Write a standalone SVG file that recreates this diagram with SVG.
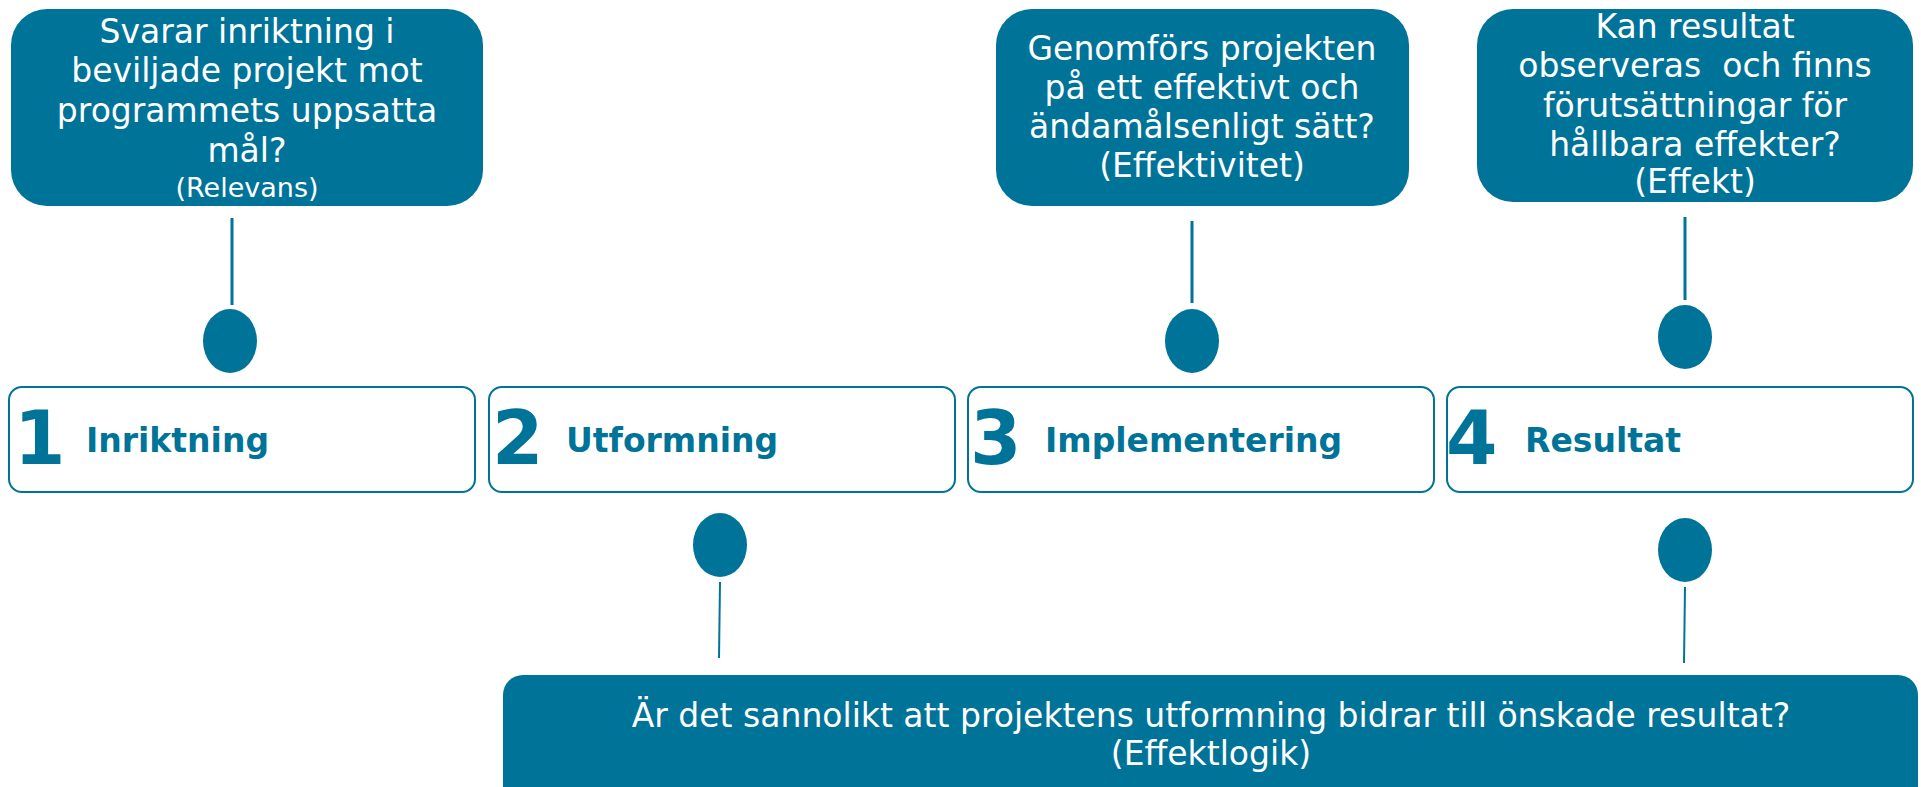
<svg xmlns="http://www.w3.org/2000/svg" width="1921" height="787" viewBox="0 0 1921 787">
<style>
.q{fill:#007399}
.qt{fill:#ffffff;font-family:"DejaVu Sans",Verdana,sans-serif;font-size:33px;text-anchor:middle}
.sm{font-size:27px}
.ph{fill:#ffffff;stroke:#007399;stroke-width:2}
.num{fill:#007399;font-family:"DejaVu Sans",Verdana,sans-serif;font-weight:bold;font-size:74px}
.lbl{fill:#007399;font-family:"DejaVu Sans",Verdana,sans-serif;font-weight:bold;font-size:33px}
.ln{stroke:#007399;stroke-width:3;fill:none}
.ln2{stroke:#007399;stroke-width:2;fill:none}
.dot{fill:#007399}
</style>
<rect width="1921" height="787" fill="#ffffff"/>
<g id="q-relevans">
<rect class="q" x="11" y="9" width="472" height="197" rx="36"/>
<text class="qt" x="247" y="43">Svarar inriktning i</text>
<text class="qt" x="247" y="82">beviljade projekt mot</text>
<text class="qt" x="247" y="122">programmets uppsatta</text>
<text class="qt" x="247" y="162">mål?</text>
<text class="qt sm" x="247" y="197">(Relevans)</text>
</g>
<g id="q-effektivitet">
<rect class="q" x="996" y="9" width="413" height="197" rx="36"/>
<text class="qt" x="1202" y="60">Genomförs projekten</text>
<text class="qt" x="1202" y="99">på ett effektivt och</text>
<text class="qt" x="1202" y="138">ändamålsenligt sätt?</text>
<text class="qt" x="1202" y="177">(Effektivitet)</text>
</g>
<g id="q-effekt">
<rect class="q" x="1477" y="9" width="436" height="193" rx="36"/>
<text class="qt" x="1695" y="38">Kan resultat</text>
<text class="qt" x="1695" y="77" xml:space="preserve">observeras  och finns</text>
<text class="qt" x="1695" y="117">förutsättningar för</text>
<text class="qt" x="1695" y="156">hållbara effekter?</text>
<text class="qt" x="1695" y="193">(Effekt)</text>
</g>
<g id="q-effektlogik">
<rect class="q" x="503" y="675" width="1415" height="140" rx="20"/>
<text class="qt" x="1211" y="727">Är det sannolikt att projektens utformning bidrar till önskade resultat?</text>
<text class="qt" x="1211" y="765">(Effektlogik)</text>
</g>
<g id="phase-1">
<rect class="ph" x="9" y="387" width="466" height="105" rx="13"/>
<text class="num" x="14" y="464">1</text>
<text class="lbl" x="86" y="452">Inriktning</text>
</g>
<g id="phase-2">
<rect class="ph" x="489" y="387" width="466" height="105" rx="13"/>
<text class="num" x="492" y="464">2</text>
<text class="lbl" x="566" y="452">Utformning</text>
</g>
<g id="phase-3">
<rect class="ph" x="968" y="387" width="466" height="105" rx="13"/>
<text class="num" x="970" y="464">3</text>
<text class="lbl" x="1045" y="452">Implementering</text>
</g>
<g id="phase-4">
<rect class="ph" x="1447" y="387" width="466" height="105" rx="13"/>
<text class="num" x="1446" y="464">4</text>
<text class="lbl" x="1525" y="452">Resultat</text>
</g>
<g id="connectors">
<line class="ln" x1="232" y1="218" x2="232" y2="305"/>
<ellipse class="dot" cx="230" cy="341" rx="27" ry="32"/>
<line class="ln" x1="1192" y1="221" x2="1192" y2="303"/>
<ellipse class="dot" cx="1192" cy="341" rx="27" ry="32"/>
<line class="ln" x1="1685" y1="217" x2="1685" y2="300"/>
<ellipse class="dot" cx="1685" cy="337" rx="27" ry="32"/>
<ellipse class="dot" cx="720" cy="545" rx="27" ry="32"/>
<line class="ln2" x1="720" y1="582" x2="719" y2="658"/>
<ellipse class="dot" cx="1685" cy="550" rx="27" ry="32"/>
<line class="ln2" x1="1685" y1="587" x2="1684" y2="663"/>
</g>
</svg>
